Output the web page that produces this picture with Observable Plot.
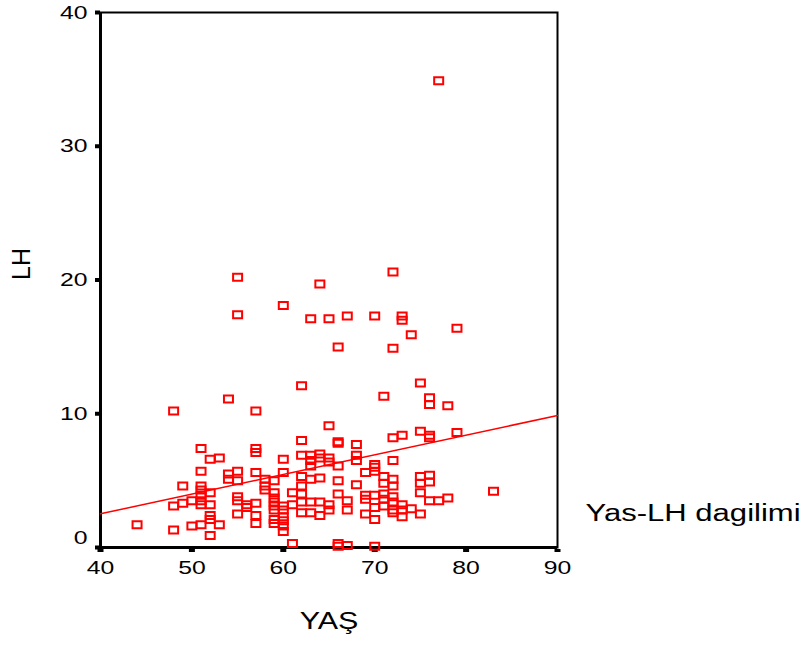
<!DOCTYPE html>
<html>
<head>
<meta charset="utf-8">
<script src="https://cdn.jsdelivr.net/npm/d3@7"></script>
<script src="https://cdn.jsdelivr.net/npm/@observablehq/plot@0.6"></script>
<style>
  html, body { margin: 0; padding: 0; background: #fff; }
  #chart svg { display: block; }
</style>
</head>
<body>
<div id="chart"></div>
<script>
// ---- data ----
const age = [
  44,
  48, 48, 48,
  49, 49,
  50, 50,
  51, 51, 51, 51, 51, 51, 51, 51,
  52, 52, 52, 52, 52, 52,
  53, 53,
  54, 54, 54,
  55, 55, 55, 55, 55, 55, 55,
  56, 56,
  57, 57, 57, 57, 57, 57, 57,
  58, 58, 58,
  59, 59, 59, 59, 59, 59, 59, 59,
  60, 60, 60, 60, 60, 60, 60, 60, 60,
  61, 61, 61,
  62, 62, 62, 62, 62, 62, 62, 62,
  63, 63, 63, 63, 63, 63, 63,
  64, 64, 64, 64, 64, 64,
  65, 65, 65, 65, 65, 65,
  66, 66, 66, 66, 66, 66, 66, 66,
  67, 67, 67, 67,
  68, 68, 68, 68,
  69, 69, 69, 69,
  70, 70, 70, 70, 70, 70, 70, 70,
  71, 71, 71, 71, 71, 71,
  72, 72, 72, 72, 72, 72, 72, 72, 72, 72,
  73, 73, 73, 73, 73, 73,
  74, 74,
  75, 75, 75, 75, 75, 75,
  76, 76, 76, 76, 76, 76, 76,
  77, 77,
  78, 78,
  79, 79,
  83
];
const lh = [
  1.7,
  10.2, 3.1, 1.3,
  4.6, 3.3,
  3.5, 1.6,
  7.4, 5.7, 4.6, 4.3, 3.9, 3.5, 3.2, 1.7,
  6.6, 4.1, 3.2, 2.4, 2.1, 0.9,
  6.7, 1.7,
  11.1, 5.5, 5.1,
  20.2, 17.4, 5.7, 5.0, 3.8, 3.5, 2.5,
  3.2, 3.0,
  10.2, 7.4, 7.1, 5.6, 3.3, 2.4, 1.8,
  5.1, 4.6, 4.3,
  5.0, 4.1, 3.7, 3.4, 3.1, 2.8, 2.1, 1.8,
  18.1, 6.6, 5.6, 3.1, 2.8, 2.3, 2.0, 1.6, 1.2,
  4.1, 3.2, 0.3,
  12.1, 8.0, 6.9, 5.3, 4.6, 4.0, 3.4, 2.6,
  17.1, 6.9, 6.5, 6.1, 5.1, 3.4, 2.6,
  19.7, 7.0, 6.7, 5.2, 3.4, 2.4,
  17.1, 9.1, 6.7, 6.4, 3.2, 2.8,
  15.0, 7.9, 7.8, 6.1, 5.0, 4.0, 0.3, 0.1,
  17.3, 3.5, 2.8, 0.15,
  7.7, 6.9, 6.5, 4.7,
  5.6, 3.9, 3.6, 2.5,
  17.3, 6.2, 6.0, 5.7, 3.9, 3.0, 2.1, 0.1,
  11.3, 5.3, 4.8, 4.0, 3.6, 3.1,
  20.6, 14.9, 8.2, 6.5, 5.1, 4.6, 3.8, 3.4, 2.8, 2.6,
  17.3, 17.0, 8.4, 3.2, 2.8, 2.3,
  15.9, 2.9,
  12.3, 8.7, 5.3, 4.8, 4.1, 2.5,
  11.2, 10.7, 8.4, 8.2, 5.4, 4.9, 3.5,
  34.9, 3.5,
  10.6, 3.7,
  16.4, 8.6,
  4.2
];
// fitted regression line (end points over the axis range)
const fitX = [40, 90];
const fitY = [2.52, 9.87];

const xTicks = [40, 50, 60, 70, 80, 90];
const yTicks = [0, 10, 20, 30, 40];
const xLabel = "YAŞ";
const yLabel = "LH";
const legendLabel = "Yas-LH dagilimi";

// ---- build table ----
const points = age.map((a, i) => ({age: a, lh: lh[i]}));
const fitLine = fitX.map((x, i) => ({x, y: fitY[i]}));

const rectSymbol = {
  draw(context) {
    context.moveTo(-4.5, -3.5);
    context.lineTo(4.5, -3.5);
    context.lineTo(4.5, 3.5);
    context.lineTo(-4.5, 3.5);
    context.closePath();
  }
};

const red = "#ff0000";

const chart = Plot.plot({
  width: 808,
  height: 645,
  marginLeft: 100,
  marginRight: 251,
  marginTop: 12,
  marginBottom: 98,
  style: {fontFamily: "'Liberation Sans', Arial, sans-serif", fontSize: "19px", background: "#fff", color: "#000"},
  x: {domain: [40, 90]},
  y: {domain: [0, 40]},
  marks: [
    Plot.frame({stroke: "#000", strokeWidth: 2}),
    // x ticks (small black blocks below the axis)
    Plot.axisX({ticks: xTicks, tickSize: 3, strokeWidth: 6, stroke: "#000", dy: 2, tickFormat: () => "", label: null}),
    // x tick labels
    Plot.axisX({ticks: xTicks, tickSize: 0, tickPadding: 13, fill: "#000", label: null}),
    // y ticks
    Plot.axisY({ticks: yTicks, tickSize: 5, strokeWidth: 4, stroke: "#000", tickFormat: () => "", label: null}),
    // y tick labels
    Plot.axisY({ticks: yTicks.filter(d => d !== 0), tickSize: 0, tickPadding: 13, fill: "#000", label: null}),
    Plot.axisY({ticks: [0], tickSize: 0, tickPadding: 13, fill: "#000", dy: -10, label: null}),
    Plot.ruleX([40], {stroke: "#000", strokeWidth: 3}),
    Plot.ruleY([0], {stroke: "#000", strokeWidth: 3}),
    Plot.line(fitLine, {x: "x", y: "y", stroke: red, strokeWidth: 1.5}),
    Plot.dot(points, {x: "age", y: "lh", symbol: rectSymbol, stroke: red, strokeWidth: 2, fill: "none"}),
    Plot.text([xLabel], {frameAnchor: "bottom", dy: 81, fontSize: 24, fill: "#000"}),
    Plot.text([yLabel], {frameAnchor: "left", dx: -79, rotate: -90, fontSize: 25, fill: "#000"}),
    Plot.text([legendLabel], {frameAnchor: "bottom-right", textAnchor: "start", dx: 28, dy: -27, fontSize: 23, fill: "#000"})
  ]
});

document.getElementById("chart").appendChild(chart);

// horizontally stretch the text like the reference
chart.querySelectorAll("text").forEach(t => {
  const s = t.textContent;
  if (!s || s === yLabel) return;
  let f = 1.3;
  if (s === xLabel) f = 1.27;
  else if (s === legendLabel) f = 1.35;
  const len = t.getComputedTextLength();
  if (len > 0) {
    t.setAttribute("textLength", (len * f).toFixed(1));
    t.setAttribute("lengthAdjust", "spacingAndGlyphs");
  }
});
</script>
</body>
</html>
